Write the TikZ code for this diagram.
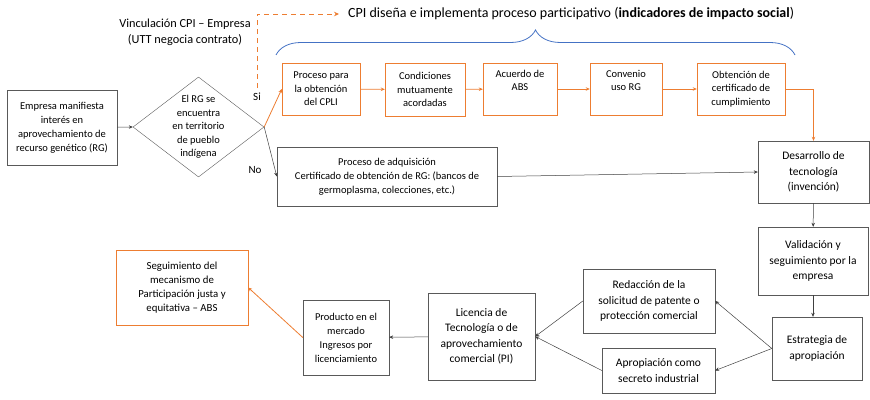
\documentclass[tikz,border=0pt]{standalone}
\usepackage{fontspec}
\setmainfont{Carlito}
\usetikzlibrary{arrows.meta}
\usetikzlibrary{shapes.geometric}
\usetikzlibrary{decorations.pathreplacing}
\definecolor{naranja}{RGB}{237,125,49}
\definecolor{azul}{RGB}{68,114,196}
\definecolor{gris}{RGB}{89,89,89}

\begin{document}
\begin{tikzpicture}[x=1pt,y=-1pt,
    caja/.style={draw=gris, align=center, inner sep=0pt, font=\fontsize{10.5}{14}\selectfont},
    cajagr/.style={caja, font=\fontsize{11.5}{15.5}\selectfont},
    cajana/.style={caja, draw=naranja, font=\fontsize{10.5}{13.5}\selectfont},
    flecha/.style={draw=black!75, line width=0.5pt, -{Stealth[length=4pt,width=3.5pt]}},
    flechana/.style={flecha, draw=naranja, line width=0.8pt}]
    \useasboundingbox (0,0) rectangle (870,399);
    \node[caja, minimum width=110, minimum height=75] (empresa) at (62,127.5) {Empresa manifiesta\\interés en\\aprovechamiento de\\recurso genético (RG)};
    \node[diamond, draw=gris, minimum width=131, minimum height=100, inner sep=0pt] (rg) at (198.5,127) {};
    \node[align=center, font=\fontsize{10.5}{13.5}\selectfont] (rgtexto) at (rg.center) {El RG se\\encuentra\\en territorio\\de pueblo\\indígena};
    \node[font=\fontsize{11}{13}\selectfont] (si) at (257,97) {Si};
    \node[font=\fontsize{11}{13}\selectfont] (no) at (255,170) {No};
    \node[align=center, font=\fontsize{12.3}{16}\selectfont] (vinculo) at (185,32) {Vinculación CPI – Empresa\\(UTT negocia contrato)};
    \node[font=\fontsize{14}{16}\selectfont, inner sep=0pt, anchor=west] (titulo) at (348,14) {CPI diseña e implementa proceso participativo (\textbf{indicadores de impacto social})};
    \coordinate (dsale) at (257,88);
    \node[cajana, minimum width=78, minimum height=52] (cpli) at (321,89) {Proceso para\\la obtención\\del CPLI};
    \node[cajana, minimum width=80, minimum height=53] (condiciones) at (425,89.5) {Condiciones\\mutuamente\\acordadas};
    \node[cajana, minimum width=74, minimum height=52] (acuerdo) at (520,89) {Acuerdo de\\ABS\\[4pt]};
    \node[cajana, minimum width=72, minimum height=52] (convenio) at (626,89) {Convenio\\uso RG\\[4pt]};
    \node[cajana, minimum width=88, minimum height=52] (certificado) at (741,89) {Obtención de\\certificado de\\cumplimiento};
    \node[caja, minimum width=220, minimum height=59] (adquisicion) at (387,176.5) {Proceso de adquisición\\Certificado de obtención de RG: (bancos de\\germoplasma, colecciones, etc.)};
    \node[cajagr, minimum width=111, minimum height=62] (desarrollo) at (813.5,172) {Desarrollo de\\tecnología\\(invención)};
    \node[cajagr, minimum width=110, minimum height=68] (validacion) at (813,261) {Validación y\\seguimiento por la\\empresa};
    \node[cajagr, minimum width=90, minimum height=63] (estrategia) at (817,348.5) {Estrategia de\\apropiación};
    \node[cajagr, minimum width=132, minimum height=64] (redaccion) at (649,301) {Redacción de la\\solicitud de patente o\\protección comercial};
    \node[cajagr, minimum width=113, minimum height=45] (apropiacion) at (658.5,370.5) {Apropiación como\\secreto industrial};
    \node[cajagr, minimum width=107, minimum height=87] (licencia) at (481.5,336.5) {Licencia de\\Tecnología o de\\aprovechamiento\\comercial (PI)};
    \node[caja, minimum width=86, minimum height=75] (producto) at (346,337.5) {Producto en el\\mercado\\Ingresos por\\licenciamiento};
    \node[cajana, font=\fontsize{10.8}{14.2}\selectfont, minimum width=132, minimum height=75] (seguimiento) at (182,287.5) {Seguimiento del\\mecanismo de\\Participación justa y\\equitativa – ABS};
    \draw[azul, line width=0.8pt, decorate, decoration={brace, amplitude=25pt}] (276,55) -- (795,55);
    \draw[naranja, line width=0.8pt, dashed, dash pattern=on 5pt off 4pt, -{Stealth[length=5pt,width=4.5pt]}] (dsale) |- ([xshift=-9pt]titulo.west);
    \draw[flecha] (empresa) -- (rg.west);
    \draw[flechana] (rg.east) -- (cpli.west);
    \draw[flecha] (rg.east) -- (adquisicion.west);
    \draw[flechana] (cpli) -- (condiciones);
    \draw[flechana] (condiciones) -- (acuerdo);
    \draw[flechana] (acuerdo) -- (convenio);
    \draw[flechana] (convenio) -- (certificado);
    \draw[flechana] (certificado.east) -| (desarrollo.north);
    \draw[flecha] (adquisicion.east) -- (desarrollo.west);
    \draw[flecha] (desarrollo) -- (validacion);
    \draw[flecha] (validacion.south) -- (validacion.south |- estrategia.north);
    \draw[flecha] (estrategia.west) -- (redaccion.east);
    \draw[flecha] (estrategia.west) -- (apropiacion.east);
    \draw[flecha] (redaccion.west) -- (licencia.east);
    \draw[flecha] (apropiacion.west) -- (licencia.east);
    \draw[flecha] (licencia) -- (producto);
    \draw[flechana] (producto.west) -- (seguimiento.east);
\end{tikzpicture}
\end{document}
